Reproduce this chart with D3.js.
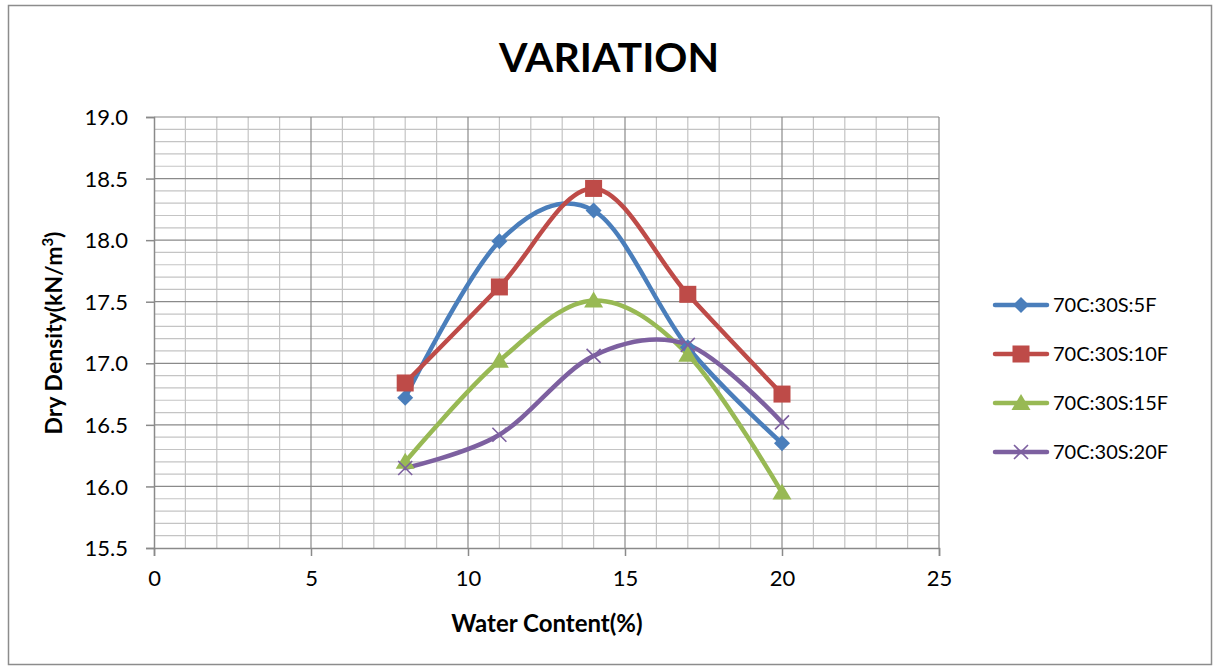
<!DOCTYPE html>
<html>
  <head>
    <meta charset="utf-8" />
    <script src="https://cdn.jsdelivr.net/npm/d3@7/dist/d3.min.js"></script>
    <style>
      body { margin: 0; background: white; }
      svg text { font-family: Lato, "Open Sans", sans-serif; fill: #000; }
    </style>
  </head>
  <body>
    <svg id="chart" width="1219" height="670"></svg>
    <script>
      // data
      const waterContent = [8, 11, 14, 17, 20];
      const seriesNames = ["70C:30S:5F", "70C:30S:10F", "70C:30S:15F", "70C:30S:20F"];
      const density5F = [16.72, 17.99, 18.24, 17.13, 16.35];
      const density10F = [16.84, 17.62, 18.42, 17.56, 16.75];
      const density15F = [16.2, 17.02, 17.51, 17.07, 15.95];
      const density20F = [16.15, 16.42, 17.06, 17.15, 16.52];
      const xTicks = [0, 5, 10, 15, 20, 25];
      const yTicks = [15.5, 16.0, 16.5, 17.0, 17.5, 18.0, 18.5, 19.0];

      const colors = ["#4a7ebb", "#be4b48", "#98b954", "#7d60a0"];
      const markers = ["diamond", "square", "triangle", "cross"];
      const allSeries = [density5F, density10F, density15F, density20F].map((vals, i) => ({
        name: seriesNames[i],
        color: colors[i],
        marker: markers[i],
        points: vals.map((v, j) => ({ x: waterContent[j], y: v }))
      }));

      const svg = d3.select("#chart");

      const plot = { left: 154, right: 939, top: 117, bottom: 548 };

      const x = d3.scaleLinear().domain([0, 25]).range([plot.left, plot.right]);
      const y = d3.scaleLinear().domain([15.5, 19]).range([plot.bottom, plot.top]);

      // outer chart border
      svg.append("rect")
        .attr("x", 8.5).attr("y", 5.5)
        .attr("width", 1203).attr("height", 659)
        .attr("fill", "white")
        .attr("stroke", "#8c8c8c")
        .attr("stroke-width", 1.5);

      // title
      svg.append("text")
        .attr("x", 609).attr("y", 72)
        .attr("text-anchor", "middle")
        .style("font-size", "41px")
        .style("font-weight", "bold")
        .text("VARIATION");

      const grid = svg.append("g");

      // minor gridlines
      grid.selectAll(".hminor")
        .data(d3.range(15.6, 19.0, 0.1).map(d => +d.toFixed(1)).filter(d => !yTicks.includes(d)))
        .enter().append("line")
        .attr("x1", plot.left).attr("x2", plot.right)
        .attr("y1", d => y(d)).attr("y2", d => y(d))
        .attr("stroke", "#c4c4c4").attr("stroke-width", 1.2);

      grid.selectAll(".vminor")
        .data(d3.range(1, 26).filter(d => d % 5 !== 0))
        .enter().append("line")
        .attr("y1", plot.top).attr("y2", plot.bottom)
        .attr("x1", d => x(d)).attr("x2", d => x(d))
        .attr("stroke", "#c4c4c4").attr("stroke-width", 1.2);

      // major gridlines
      grid.selectAll(".hmajor")
        .data(yTicks.slice(1))
        .enter().append("line")
        .attr("x1", plot.left).attr("x2", plot.right)
        .attr("y1", d => y(d)).attr("y2", d => y(d))
        .attr("stroke", "#8a8a8a").attr("stroke-width", 1.2);

      grid.selectAll(".vmajor")
        .data(xTicks.slice(1))
        .enter().append("line")
        .attr("y1", plot.top).attr("y2", plot.bottom)
        .attr("x1", d => x(d)).attr("x2", d => x(d))
        .attr("stroke", "#8a8a8a").attr("stroke-width", 1.2);

      // axes
      const xAxis = svg.append("g")
        .attr("transform", `translate(0,${plot.bottom})`)
        .call(d3.axisBottom(x).tickValues(xTicks).tickSize(8).tickPadding(14).tickFormat(d3.format("d")));
      const yAxis = svg.append("g")
        .attr("transform", `translate(${plot.left},0)`)
        .call(d3.axisLeft(y).tickValues(yTicks).tickSize(8).tickPadding(18).tickFormat(d3.format(".1f")));

      [xAxis, yAxis].forEach(a => {
        a.select(".domain").attr("stroke", "#8a8a8a").attr("stroke-width", 1.5);
        a.selectAll(".tick line").attr("stroke", "#8a8a8a").attr("stroke-width", 1.5);
        a.selectAll(".tick text").style("font-size", "22px").style("font-family", "Lato, sans-serif");
      });
      yAxis.selectAll(".tick text").attr("dy", "0.35em");

      // axis titles
      svg.append("text")
        .attr("x", 547).attr("y", 632)
        .attr("text-anchor", "middle")
        .style("font-size", "24px").style("font-weight", "bold")
        .text("Water Content(%)");

      const yTitle = svg.append("text")
        .attr("transform", "translate(62,333) rotate(-90)")
        .attr("text-anchor", "middle")
        .style("font-size", "23px").style("font-weight", "bold");
      yTitle.append("tspan").text("Dry Density(kN/m");
      yTitle.append("tspan").attr("baseline-shift", "super").style("font-size", "15px").text("3");
      yTitle.append("tspan").text(")");

      // series
      const line = d3.line()
        .x(d => x(d.x)).y(d => y(d.y))
        .curve(d3.curveCardinal.tension(0));

      function drawMarker(g, type, color, cx, cy) {
        if (type === "diamond") {
          g.append("path")
            .attr("d", `M${cx},${cy - 8}L${cx + 8},${cy}L${cx},${cy + 8}L${cx - 8},${cy}Z`)
            .attr("fill", color);
        } else if (type === "square") {
          g.append("rect")
            .attr("x", cx - 8.5).attr("y", cy - 8.5)
            .attr("width", 17).attr("height", 17)
            .attr("fill", color);
        } else if (type === "triangle") {
          g.append("path")
            .attr("d", `M${cx},${cy - 9}L${cx + 9.5},${cy + 7}L${cx - 9.5},${cy + 7}Z`)
            .attr("fill", color);
        } else {
          g.append("path")
            .attr("d", `M${cx - 7},${cy - 7}L${cx + 7},${cy + 7}M${cx + 7},${cy - 7}L${cx - 7},${cy + 7}`)
            .attr("stroke", color).attr("stroke-width", 1.6).attr("fill", "none");
        }
      }

      const seriesG = svg.append("g");
      allSeries.forEach(s => {
        seriesG.append("path")
          .datum(s.points)
          .attr("d", line)
          .attr("fill", "none")
          .attr("stroke", s.color)
          .attr("stroke-width", 4.5)
          .attr("stroke-linecap", "round");
      });
      allSeries.forEach(s => {
        const mg = seriesG.append("g");
        s.points.forEach(p => drawMarker(mg, s.marker, s.color, x(p.x), y(p.y)));
      });

      // legend
      const legend = svg.append("g").attr("transform", "translate(993,305)");
      allSeries.forEach((s, i) => {
        const row = legend.append("g").attr("transform", `translate(0,${i * 49})`);
        row.append("line")
          .attr("x1", 2).attr("x2", 54)
          .attr("stroke", s.color).attr("stroke-width", 4.5)
          .attr("stroke-linecap", "round");
        drawMarker(row, s.marker, s.color, 28, 0);
        row.append("text")
          .attr("x", 60).attr("dy", "0.35em")
          .style("font-size", "20px")
          .text(s.name);
      });
    </script>
  </body>
</html>
